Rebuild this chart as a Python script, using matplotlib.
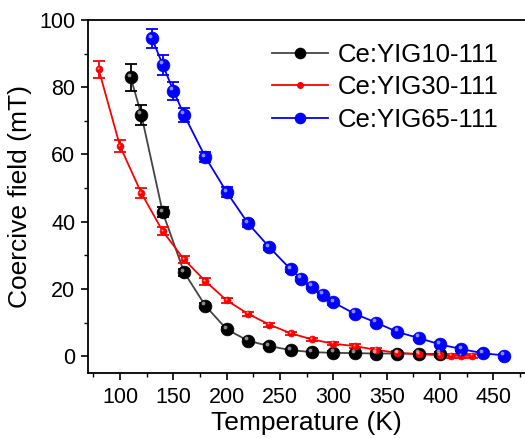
import matplotlib
matplotlib.use("Agg")
import matplotlib.pyplot as plt
from matplotlib.ticker import MultipleLocator
import matplotlib.transforms as mtransforms

plt.rcParams['font.family'] = ['Liberation Sans', 'DejaVu Sans']

# Data
t10 = [110, 120, 140, 160, 180, 200, 220, 240, 260, 280, 300, 320, 340, 360, 380, 400]
h10 = [83.0, 71.8, 42.8, 25.0, 15.0, 8.0, 4.6, 3.0, 1.8, 1.2, 1.0, 0.9, 0.8, 0.8, 0.7, 0.7]
e10 = [4.0, 3.0, 1.5, 1.0, 0.8, 0.6, 0.5, 0.5, 0.4, 0.4, 0.4, 0.4, 0.4, 0.4, 0.4, 0.4]

t30 = [80, 100, 120, 140, 160, 180, 200, 220, 240, 260, 280, 300, 320, 340, 360, 380, 400, 410, 420, 430]
h30 = [85.3, 62.5, 48.5, 37.2, 28.8, 22.3, 16.6, 12.6, 9.4, 6.8, 5.0, 3.7, 3.0, 1.9, 1.0, 0.6, 0.3, 0.1, 0.1, 0.1]
e30 = [2.5, 1.8, 1.5, 1.2, 1.0, 1.0, 0.8, 0.6, 0.6, 0.5, 0.5, 0.5, 0.5, 0.5, 0.5, 0.5, 0.5, 0.5, 0.5, 0.5]

t65 = [130, 140, 150, 160, 180, 200, 220, 240, 260, 270, 280, 290, 300, 320, 340, 360, 380, 400, 420, 440, 460]
h65 = [94.5, 86.7, 79.0, 71.8, 59.2, 48.8, 39.5, 32.4, 25.8, 23.0, 20.6, 18.2, 16.0, 12.6, 10.0, 7.2, 5.4, 3.5, 2.1, 0.9, 0.2]
e65 = [2.7, 3.0, 2.7, 2.0, 1.5, 1.5, 1.0, 0.8, 0.8, 0.7, 0.7, 0.7, 0.7, 0.6, 0.6, 0.6, 0.6, 0.6, 0.6, 0.6, 0.6]

labels = ['Ce:YIG10-111', 'Ce:YIG30-111', 'Ce:YIG65-111']

fig = plt.figure(figsize=(5.25, 4.38), dpi=100)
ax = fig.add_axes([88 / 525, (438 - 373) / 438, 437.5 / 525, 353 / 438])

series = [
    (t10, h10, e10, '#000000', '#444444', 9.2, labels[0]),
    (t30, h30, e30, '#ff0000', '#ff0000', 5.0, labels[1]),
    (t65, h65, e65, '#0000ff', '#0000ff', 9.2, labels[2]),
]

handles = []
for t, h, e, mc, lc, ms, lab in series:
    ax.plot(t, h, '-', color=lc, lw=1.3, zorder=2)
    ax.errorbar(t, h, yerr=e, fmt='none', ecolor=mc, elinewidth=1.3,
                capsize=4, capthick=1.3, zorder=3)
    ax.plot(t, h, 'o', color=mc, ms=ms, mec=mc, mew=0.5, zorder=4)
    # highlight for sphere look
    off = mtransforms.offset_copy(ax.transData, fig=fig, x=-ms * 0.15, y=ms * 0.2, units='points')
    ax.plot(t, h, 'o', color='white', alpha=0.55, ms=ms * 0.3, mew=0,
            transform=off, zorder=5)
    h_leg, = ax.plot([], [], '-o', color=lc, mfc=mc, mec=mc, ms=ms * 0.8, lw=1.3, label=lab)
    handles.append(h_leg)

ax.set_xlim(70, 480)
ax.set_ylim(-5, 100)
ax.xaxis.set_minor_locator(MultipleLocator(25))
ax.yaxis.set_major_locator(MultipleLocator(20))
ax.yaxis.set_minor_locator(MultipleLocator(10))
ax.set_xticks(range(100, 451, 50))
ax.tick_params(which='major', direction='out', length=5, width=1.2, labelsize=15.5)
ax.tick_params(which='minor', direction='out', length=3, width=1.0)
ax.tick_params(axis='x', pad=5)
ax.tick_params(axis='y', pad=4)
for s in ['left', 'bottom', 'top']:
    ax.spines[s].set_linewidth(1.3)
ax.spines['right'].set_visible(False)

ax.set_xlabel('Temperature (K)', fontsize=19, labelpad=2)
ax.set_ylabel('Coercive field (mT)', fontsize=19, labelpad=5)

ax.legend(handles=handles, loc='upper left', bbox_to_anchor=(0.397, 0.965),
          frameon=False, fontsize=18.5, handlelength=2.2, handletextpad=0.35,
          labelspacing=0.33, borderaxespad=0)

fig.savefig('out.png', dpi=100)
